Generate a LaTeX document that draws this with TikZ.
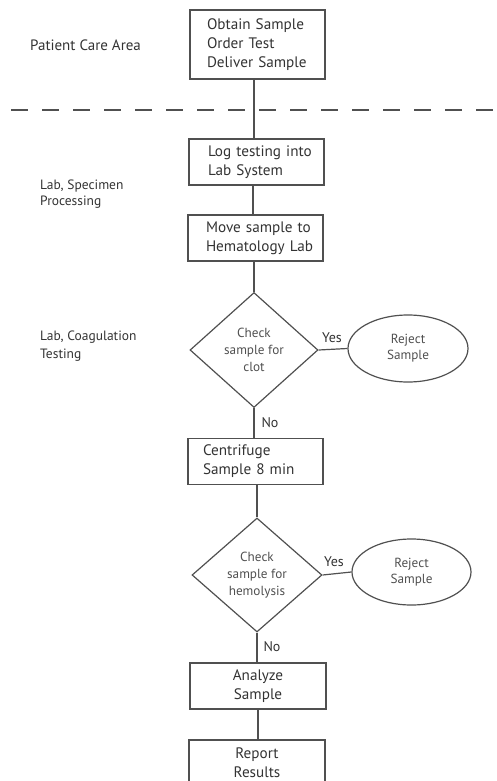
\documentclass[tikz,border=0pt]{standalone}
\usepackage{fontspec}
\setmainfont{PT Sans}
\usetikzlibrary{shapes.geometric}
\definecolor{ln}{HTML}{505050}
\definecolor{tx}{HTML}{333333}
\definecolor{tx2}{HTML}{505050}
\hbadness=10000 \hfuzz=100pt
\tikzset{
  procbox/.style={draw=ln, line width=1.2pt, rectangle, text=tx, minimum height=46pt,
    font=\fontsize{15.2}{19}\selectfont, inner ysep=0pt},
  leftbox/.style={procbox, align=left, text width=#1},
  midbox/.style={procbox, align=center, minimum width=136pt},
  decision/.style={draw=ln, line width=1.2pt, diamond, inner sep=0pt, text=tx2,
    align=center, font=\fontsize{13.2}{17}\selectfont},
  term/.style={draw=ln, line width=1.2pt, ellipse, inner sep=0pt, text=tx2,
    align=center, font=\fontsize{13.2}{16}\selectfont},
  lane/.style={text=tx, align=left, anchor=west, inner sep=0pt},
  conn/.style={draw=ln, line width=1.2pt},
  lbl/.style={text=tx, font=\fontsize{14}{15}\selectfont, inner sep=0pt}
}
\begin{document}
\begin{tikzpicture}[x=1pt,y=-1pt]
\useasboundingbox (0,0) rectangle (497,781);
% lane labels
\node[lane, font=\fontsize{15}{17}\selectfont] (l1) at (30,45) {Patient Care Area};
\node[lane, font=\fontsize{13.5}{16.5}\selectfont] (l2) at (40,194) {Lab, Specimen\\Processing};
\node[lane, font=\fontsize{13.5}{18}\selectfont] (l3) at (40,346) {Lab, Coagulation\\Testing};
% dashed separator
\coordinate (dl) at (11,110);
\coordinate (dr) at (497,110);
\draw[ln, line width=1.3pt, dash pattern=on 17pt off 14pt] (dl) -- (dr);
% process boxes
\node[leftbox=101pt, inner xsep=17pt, minimum height=69pt] (b1) at (257.5,44.5) {\mbox{Obtain Sample}\\\mbox{Order Test}\\\mbox{Deliver Sample}};
\node[leftbox=97pt, inner xsep=19pt] (b2) at (256.5,162) {\mbox{Log testing into}\\\mbox{Lab System}};
\node[leftbox=99pt, inner xsep=18pt] (b3) at (255.5,238) {\mbox{Move sample to}\\\mbox{Hematology Lab}};
\node[decision, minimum width=128pt, minimum height=115pt] (d1) at (254,350) {Check\\sample for\\clot};
\node[term, minimum width=120pt, minimum height=67pt] (e1) at (408,348.5) {Reject\\Sample};
\node[leftbox=105pt, inner xsep=15pt] (b4) at (255.5,461.5) {\mbox{Centrifuge}\\\mbox{Sample 8 min}};
\node[decision, minimum width=130pt, minimum height=114pt] (d2) at (257,575) {Check\\sample for\\hemolysis};
\node[term, minimum width=119pt, minimum height=66pt] (e2) at (411.5,572) {Reject\\Sample};
\node[midbox] (b5) at (258,686) {Analyze\\Sample};
\node[midbox] (b6) at (257,763) {Report\\Results};
% connectors
\draw[conn] (b1.south -| 254,0) -- (b2.north -| 254,0);
\draw[conn] (b2.south -| 253,0) -- (b3.north -| 253,0);
\draw[conn] (b3.south -| d1.north) -- (d1.north);
\draw[conn] (d1.east) -- (e1.west);
\draw[conn] (d1.south) -- (d1.south |- b4.north);
\draw[conn] (b4.south -| d2.north) -- (d2.north);
\draw[conn] (d2.east) -- (e2.west);
\draw[conn] (d2.south) -- (d2.south |- b5.north);
\draw[conn] (b5.south) -- (b5.south |- b6.north);
% branch labels
\node[lbl] (y1) at (332,338) {Yes};
\node[lbl] (n1) at (270,423) {No};
\node[lbl] (y2) at (334,562) {Yes};
\node[lbl] (n2) at (272,647) {No};
\end{tikzpicture}
\end{document}
